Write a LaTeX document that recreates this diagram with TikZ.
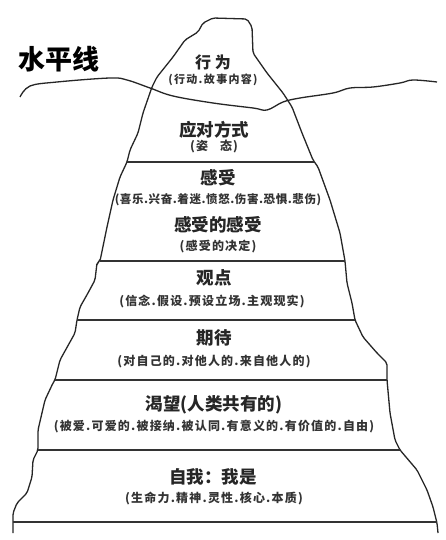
\documentclass[tikz,border=0pt]{standalone}
\usepackage{fontspec}
\newfontfamily\cjk{Noto Sans CJK SC}
\usetikzlibrary{positioning}

\tikzset{
    ice/.style={line width=1.3pt, rounded corners=2pt, black!85},
    layer/.style={line width=1.6pt, black!80},
    title/.style={font=\cjk\bfseries\fontsize{17.5}{17.5}\selectfont, text=black!85, inner sep=0pt},
    note/.style={font=\cjk\bfseries\fontsize{12}{12}\selectfont\addfontfeature{LetterSpace=10}, text=black!80, inner sep=0pt},
}

\begin{document}
\begin{tikzpicture}[x=1pt,y=-1pt]
    % page frame 446 x 540
    \useasboundingbox[fill=white] (0,0) rectangle (446,540);

    % iceberg outline, left foot up to the tip and down to the right foot
    \draw[ice] (13,533) -- (13,513) -- (17,503) -- (27,493) -- (32,477) -- (33,460)
        -- (38,450) -- (38,430) -- (45,400) -- (53,383) -- (55,380) -- (60,360)
        -- (75,333) -- (77,320) -- (80,307) -- (88,293) -- (95,280) -- (97,263)
        -- (100,261) -- (107,227) -- (113,200) -- (120,177) -- (127,162) -- (130,150)
        -- (138,133) -- (143,113) -- (152,87) -- (157,77) -- (173,57) -- (185,40)
        -- (198,32) -- (203,23) -- (213,18) -- (247,19) -- (252,27) -- (253,53)
        -- (267,73) -- (283,93) -- (292,107) -- (302,133) -- (313,160) -- (318,167)
        -- (330,200) -- (340,233) -- (345,261) -- (347,283) -- (352,303) -- (355,320)
        -- (363,337) -- (377,353) -- (387,363) -- (387,380) -- (390,413) -- (395,440)
        -- (400,450) -- (417,470) -- (427,490) -- (433,507) -- (437,523) -- (438,533);

    % water line
    \draw[line width=1.3pt, black!85] plot[smooth, tension=0.6] coordinates {
        (20,97) (30,86) (57,82) (110,78) (127,80) (150,88) (173,96) (213,103)
        (253,108) (267,110) (283,102) (300,98) (333,93) (350,88) (373,87)
        (400,83) (413,80) (437,82)};
    \node[font=\cjk\bfseries\fontsize{27}{27}\selectfont, inner sep=0pt] (water) at (59,59) {水平线};

    % layer borders: name/y/left x/right x
    \foreach \n/\y/\xl/\xr in {a/162/127/314, b/261/100/345, c/320/77/355,
                               d/380/55/387, e/450/38/400, f/522/13/437} {
        \coordinate (\n l) at (\xl,\y);
        \coordinate (\n r) at (\xr,\y);
        \draw[layer] (\n l) -- (\n r);
    }

    % tip above water
    \node[title, font=\cjk\bfseries\fontsize{16}{16}\selectfont] (behave) at (213,62) {行\ 为};
    \node[note, font=\cjk\bfseries\fontsize{11}{11}\selectfont\addfontfeature{LetterSpace=12}] (behaveN) at (213,80) {(行动.故事内容)};

    % layers under water
    \node[title] (cope) at (214,130) {应对方式};
    \node[note] (copeN) at (214,147) {(姿\quad 态)};

    \node[title] (feel) at (218,178) {感受};
    \node[note, font=\cjk\bfseries\fontsize{11.5}{11.5}\selectfont\addfontfeature{LetterSpace=5}] (feelN) at (218,200) {(喜乐.兴奋.着迷.愤怒.伤害.恐惧.悲伤)};
    \node[title] (feelfeel) at (218,225) {感受的感受};
    \node[note] (feelfeelN) at (218,247) {(感受的决定)};

    \node[title] (view) at (214,278) {观点};
    \node[note] (viewN) at (212,302) {(信念.假设.预设立场.主观现实)};

    \node[title] (expect) at (214,338) {期待};
    \node[note] (expectN) at (214,362) {(对自己的.对他人的.来自他人的)};

    \node[title] (yearn) at (214,405) {渴望(人类共有的)};
    \node[note] (yearnN) at (214,427) {(被爱.可爱的.被接纳.被认同.有意义的.有价值的.自由)};

    \node[title] (self) at (213,477) {自我：我是};
    \node[note] (selfN) at (214,498) {(生命力.精神.灵性.核心.本质)};
\end{tikzpicture}
\end{document}
